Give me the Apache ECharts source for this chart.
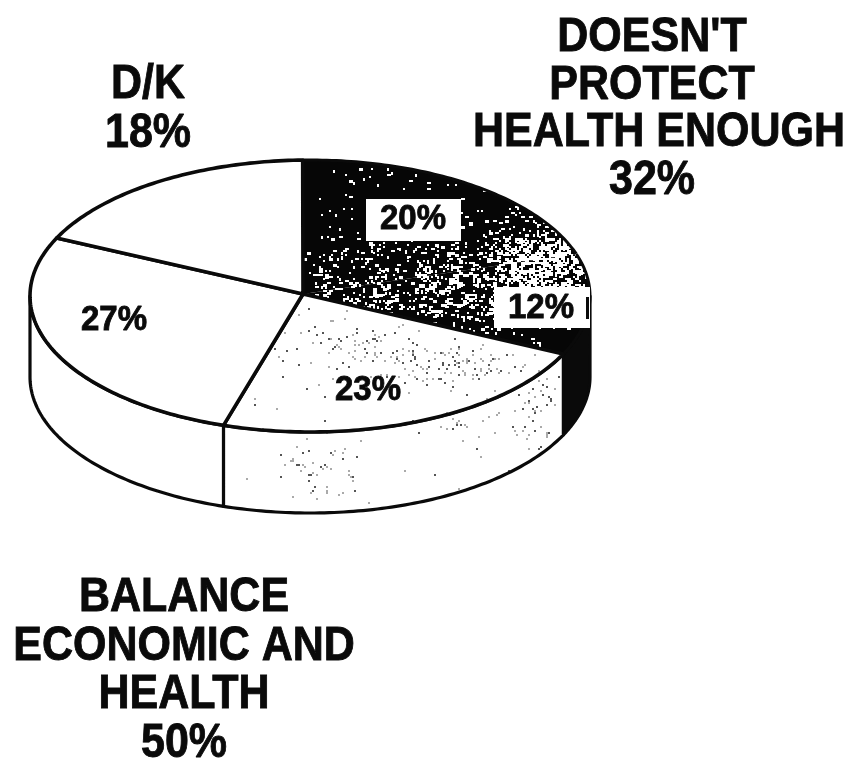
<!DOCTYPE html>
<html><head><meta charset="utf-8">
<style>html,body{margin:0;padding:0;background:#fff}#c{width:851px;height:764px}</style>
<script src="https://cdn.jsdelivr.net/npm/echarts@6/dist/echarts.min.js"></script>
</head><body><div id="c"></div>
<script>
// Data
const sliceNames = ['Doesn\'t protect (a)', 'Doesn\'t protect (b)', 'Balance (a)', 'Balance (b)', 'D/K'];
const sliceValues = [20, 12, 23, 27, 18];
const sliceLabels = ['20%', '12%', '23%', '27%', ''];
const protectLines = ["DOESN'T", 'PROTECT', 'HEALTH ENOUGH', '32%'];
const dkLines = ['D/K', '18%'];
const balanceLines = ['BALANCE', 'ECONOMIC AND', 'HEALTH', '50%'];

// Layout
const W = 851, H = 764;
const CX = 310, CY = 296, RX = 280, RY = 136, DEPTH = 81, HUB = [303, 294], SEAM = -1.5;
const INK = '#0a0a0a';
const FONT = '"Liberation Sans", Arial, sans-serif';

function hash(a, b) {
  let h = (a * 374761393 + b * 668265263) | 0;
  h = Math.imul(h ^ (h >>> 13), 1274126177);
  return ((h ^ (h >>> 16)) >>> 0) / 4294967296;
}
function vnoise(x, y, s) {
  const fx = x / s, fy = y / s, ix = Math.floor(fx), iy = Math.floor(fy), u = fx - ix, v = fy - iy;
  const a = hash(ix, iy), b = hash(ix + 1, iy), c = hash(ix, iy + 1), d = hash(ix + 1, iy + 1);
  return (a * (1 - u) + b * u) * (1 - v) + (c * (1 - u) + d * u) * v;
}
function clamp01(v) { return Math.max(0, Math.min(1, v)); }
function blob(x, y, cx, cy, sx, sy) {
  const a = (x - cx) / sx, b = (y - cy) / sy;
  return Math.exp(-(a * a + b * b));
}

function darkTexture() {
  const cv = document.createElement('canvas'); cv.width = W; cv.height = H;
  const g = cv.getContext('2d');
  g.fillStyle = '#060606'; g.fillRect(0, 0, W, H);
  g.fillStyle = '#fff';
  for (let y = 150; y < 450; y += 2) for (let x = 295; x < 600; x += 2) {
    const band = blob(x, y, 430, 285, 170, 42) * 0.2 + blob(x, y, 550, 262, 50, 32) * 0.5;
    let d = 0.012 + band;
    if (x < 312) d *= 0.1;
    d *= 0.35 + 1.3 * vnoise(x, y, 8);
    if (hash(x, y) < d) {
      const w = hash(y, x) < 0.4 ? 4 : 2;
      g.fillRect(x, y, w, hash(x + 7, y) < 0.3 ? 3 : 2);
    }
  }
  return cv;
}
function lightTexture() {
  const cv = document.createElement('canvas'); cv.width = W; cv.height = H;
  const g = cv.getContext('2d');
  g.fillStyle = '#fff'; g.fillRect(0, 0, W, H);
  for (let y = 300; y < 520; y += 2) for (let x = 222; x < 570; x += 2) {
    const d = 0.16 * blob(x, y, 440, 365, 55, 18) + 0.08 * blob(x, y, 335, 345, 45, 22)
      + 0.09 * blob(x, y, 535, 410, 18, 28) + 0.05 * blob(x, y, 320, 465, 28, 25)
      + 0.05 * blob(x, y, 460, 425, 30, 12) + 0.004;
    if (hash(x + 3, y + 11) < d * (0.5 + vnoise(x, y, 6))) {
      g.fillStyle = hash(x, y + 5) < 0.4 ? '#555' : '#aaa';
      g.fillRect(x, y, 2, 2);
    }
  }
  return cv;
}
const darkFill = { image: darkTexture(), repeat: 'no-repeat' };
const lightFill = { image: lightTexture(), repeat: 'no-repeat' };
const fills = [darkFill, darkFill, lightFill, '#fff', '#fff'];
const wallFills = [INK, INK, lightFill, '#fff', '#fff'];

function pt(deg, dy) {
  const r = deg * Math.PI / 180;
  return [CX + RX * Math.sin(r), CY - RY * Math.cos(r) + (dy || 0)];
}
function arc(a, b, dy) {
  const out = [], n = Math.max(2, Math.ceil(Math.abs(b - a)));
  for (let i = 0; i <= n; i++) out.push(pt(a + (b - a) * i / n, dy));
  return out;
}
const total = sliceValues.reduce((s, v) => s + v, 0);

function renderSlice(params, api) {
  const i = params.dataIndex, v = api.value(0);
  let before = 0;
  for (let k = 0; k < i; k++) before += sliceValues[k];
  let a0 = before / total * 360, a1 = a0 + v / total * 360;
  if (i === 0) a0 += SEAM;
  if (i === sliceValues.length - 1) a1 += SEAM;
  const children = [];
  const wa = Math.max(a0, 90), wb = Math.min(a1, 270);
  if (wb > wa) {
    const poly = arc(wa, wb, 0).concat(arc(wb, wa, DEPTH));
    children.push({ type: 'polygon', shape: { points: poly },
      style: { fill: wallFills[i], stroke: INK, lineWidth: 3.2, lineJoin: 'round' } });
  }
  const isDark = i < 2;
  const top = [HUB].concat(arc(a0, a1, 0));
  children.push({ type: 'polygon', shape: { points: top },
    style: { fill: fills[i], stroke: isDark ? null : INK, lineWidth: 3.6, lineJoin: 'round' } });
  if (isDark) children.push({ type: 'polyline', shape: { points: arc(a0, a1, 0) },
    style: { fill: null, stroke: INK, lineWidth: 3 } });
  return { type: 'group', children };
}

function text(str, x, y, size, sy) {
  return { type: 'text', z: 20, x, y, scaleY: sy,
    style: { text: str, fill: INK, font: 'bold ' + size + 'px ' + FONT, align: 'center', verticalAlign: 'middle',
      stroke: INK, lineWidth: 0.8 } };
}
function box(x, y, w, h) {
  return { type: 'rect', z: 10, shape: { x, y, width: w, height: h }, style: { fill: '#fff' } };
}
function block(lines, x, y, step, offsets) {
  return lines.map((s, k) => text(s, x + (offsets ? offsets[k] : 0), y + k * step, 43, 1.12));
}

const chart = echarts.init(document.getElementById('c'), null, { renderer: 'canvas' });
chart.setOption({
  animation: false,
  backgroundColor: '#fff',
  series: [{
    type: 'custom', coordinateSystem: 'none', silent: true, z: 2,
    data: sliceValues.map((v, i) => ({ name: sliceNames[i], value: [v] })),
    renderItem: renderSlice
  }],
  graphic: { elements: [
    box(366, 199, 95, 42),
    box(494, 287, 96, 41),
    { type: 'rect', z: 12, shape: { x: 586, y: 297, width: 3, height: 22 }, style: { fill: INK } },
    text(sliceLabels[0], 413, 219, 33, 1.05),
    text(sliceLabels[1], 541, 308, 33, 1.05),
    text(sliceLabels[2], 368, 390, 33, 1.05),
    text(sliceLabels[3], 114, 320, 33, 1.05)
  ].concat(
    block(protectLines, 652, 38, 47.5, [0, 0, 7, 0]),
    block(dkLines, 148, 85, 49),
    block(balanceLines, 184, 598, 48.5)
  ) }
});
</script></body></html>
